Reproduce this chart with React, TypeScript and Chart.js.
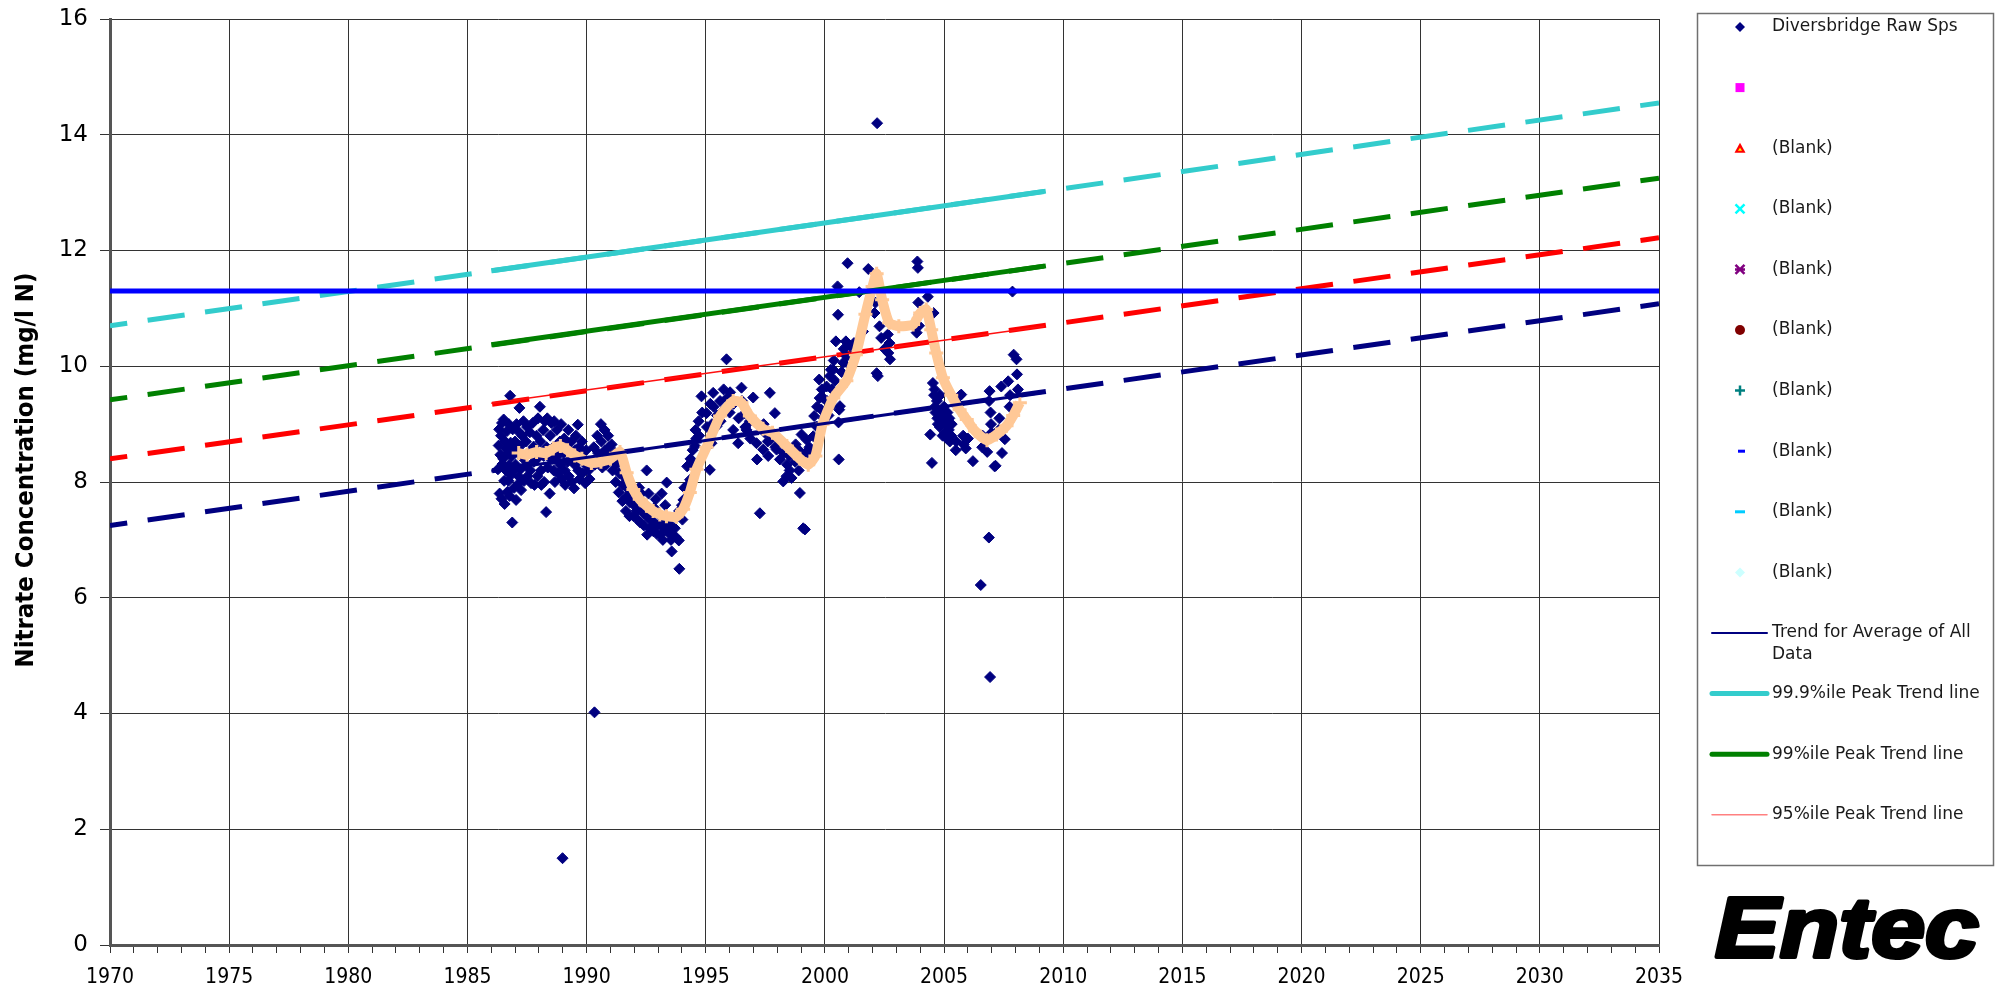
import React, { useEffect, useRef } from 'react';
import { Chart, registerables } from 'chart.js';

Chart.register(...registerables);

const FONT = '"DejaVu Sans", Verdana, sans-serif';
const FONT_COND = '"DejaVu Sans Condensed", "DejaVu Sans", sans-serif';

// Axis ticks
const yearLabels = [1970, 1975, 1980, 1985, 1990, 1995, 2000, 2005, 2010, 2015, 2020, 2025, 2030, 2035];
const concentrationTicks = [0, 2, 4, 6, 8, 10, 12, 14, 16];

// Raw samples, Diversbridge (year, nitrate mg/l N)
const samples1986to1990: number[][] = [
  [1986.28, 8.22], [1986.31, 8.63], [1986.33, 8.91], [1986.35, 7.8], [1986.38, 8.47], [1986.41, 8.8],
  [1986.43, 7.71], [1986.45, 9.02], [1986.47, 8.31], [1986.5, 8.4], [1986.52, 9.08], [1986.54, 8.02],
  [1986.56, 7.62], [1986.58, 8.7], [1986.62, 8.58], [1986.64, 8.19], [1986.66, 8.88], [1986.68, 7.83],
  [1986.7, 8.5], [1986.72, 8.02], [1986.74, 9.0], [1986.76, 8.29], [1986.77, 7.76], [1986.79, 9.49],
  [1986.81, 8.68], [1986.83, 8.12], [1986.85, 8.44], [1986.88, 7.3], [1986.9, 8.91], [1986.92, 8.6],
  [1986.94, 8.21], [1986.96, 7.9], [1987.0, 8.7], [1987.02, 8.3], [1987.04, 7.69], [1987.06, 9.0],
  [1987.1, 8.52], [1987.12, 8.88], [1987.14, 8.1], [1987.16, 7.98], [1987.18, 9.28], [1987.21, 8.62],
  [1987.23, 8.22], [1987.25, 7.86], [1987.3, 8.8], [1987.33, 8.41], [1987.35, 9.05], [1987.38, 8.02],
  [1987.45, 8.7], [1987.47, 8.3], [1987.5, 8.95], [1987.52, 8.1], [1987.6, 8.52], [1987.62, 8.86],
  [1987.64, 8.2], [1987.67, 7.98], [1987.74, 9.02], [1987.77, 8.61], [1987.79, 8.35], [1987.81, 7.95],
  [1987.9, 8.8], [1987.92, 8.4], [1987.94, 8.1], [1987.96, 9.1], [1988.04, 9.3], [1988.06, 8.7],
  [1988.08, 8.2], [1988.1, 7.95], [1988.18, 8.9], [1988.2, 8.45], [1988.22, 8.0], [1988.25, 9.05],
  [1988.3, 7.48], [1988.32, 8.6], [1988.35, 9.1], [1988.37, 8.25], [1988.45, 7.8], [1988.47, 8.8],
  [1988.49, 8.4], [1988.52, 9.02], [1988.6, 8.6], [1988.62, 8.2], [1988.64, 9.05], [1988.67, 8.0],
  [1988.75, 8.9], [1988.77, 8.45], [1988.8, 8.15], [1988.88, 8.7], [1988.9, 8.3], [1988.93, 9.0],
  [1988.95, 8.05], [1988.99, 1.5], [1989.04, 8.5], [1989.06, 8.75], [1989.08, 8.2], [1989.1, 7.95],
  [1989.18, 8.6], [1989.2, 8.35], [1989.23, 8.9], [1989.25, 8.1], [1989.33, 8.4], [1989.36, 8.7],
  [1989.38, 8.0], [1989.47, 7.89], [1989.5, 8.3], [1989.52, 8.55], [1989.55, 8.8], [1989.63, 8.99],
  [1989.65, 8.2], [1989.68, 8.6], [1989.7, 8.05], [1989.78, 8.45], [1989.8, 8.7], [1989.83, 8.15],
  [1989.94, 7.98], [1989.96, 8.3], [1989.98, 8.55], [1990.08, 8.2], [1990.12, 8.05],
];

const samples1990to1994: number[][] = [
  [1990.33, 4.02], [1990.3, 8.6], [1990.35, 8.3], [1990.45, 8.8], [1990.48, 8.5], [1990.5, 8.35],
  [1990.6, 9.0], [1990.62, 8.7], [1990.64, 8.4], [1990.66, 8.25], [1990.75, 8.9], [1990.77, 8.55],
  [1990.8, 8.3], [1990.9, 8.8], [1990.92, 8.45], [1990.94, 8.6], [1991.05, 8.65], [1991.07, 8.4],
  [1991.09, 8.2], [1991.2, 8.5], [1991.22, 8.0], [1991.24, 8.3], [1991.35, 7.82], [1991.37, 8.15],
  [1991.39, 8.4], [1991.5, 7.67], [1991.52, 7.95], [1991.54, 8.1], [1991.65, 7.5], [1991.67, 7.75],
  [1991.69, 7.9], [1991.8, 7.41], [1991.82, 7.65], [1991.84, 7.85], [1991.97, 7.41], [1991.99, 7.6],
  [1992.01, 7.75], [1992.1, 7.5], [1992.12, 7.7], [1992.14, 7.35], [1992.2, 7.9], [1992.25, 7.3],
  [1992.27, 7.55], [1992.29, 7.8], [1992.4, 7.25], [1992.42, 7.45], [1992.44, 7.6], [1992.52, 8.2],
  [1992.54, 7.09], [1992.56, 7.4], [1992.6, 7.8], [1992.65, 7.2], [1992.67, 7.35], [1992.69, 7.5],
  [1992.8, 7.15], [1992.82, 7.3], [1992.84, 7.55], [1992.9, 7.7], [1992.95, 7.1], [1992.97, 7.25],
  [1992.99, 7.45], [1993.1, 7.09], [1993.12, 7.3], [1993.15, 7.8], [1993.2, 7.0], [1993.22, 7.2],
  [1993.24, 7.4], [1993.3, 7.6], [1993.36, 7.99], [1993.38, 7.15], [1993.4, 7.3], [1993.5, 7.1],
  [1993.52, 7.25], [1993.54, 7.0], [1993.57, 6.8], [1993.7, 7.2], [1993.72, 7.4], [1993.74, 7.05],
  [1993.87, 6.99], [1993.88, 7.5], [1993.89, 6.5], [1994.0, 7.6], [1994.02, 7.35],
];

const samples1994to2000: number[][] = [
  [1994.06, 7.69], [1994.1, 7.9], [1994.2, 7.87], [1994.22, 8.27], [1994.25, 7.95], [1994.34, 8.04],
  [1994.36, 8.4], [1994.45, 8.55], [1994.47, 8.3], [1994.55, 8.62], [1994.57, 8.9], [1994.6, 8.75],
  [1994.7, 9.05], [1994.72, 8.8], [1994.82, 9.48], [1994.85, 9.2], [1995.03, 9.19], [1995.05, 8.95],
  [1995.17, 8.21], [1995.19, 9.35], [1995.24, 8.67], [1995.26, 9.0], [1995.31, 9.54], [1995.33, 9.3],
  [1995.45, 8.96], [1995.47, 9.15], [1995.6, 9.4], [1995.62, 9.05], [1995.75, 9.6], [1995.77, 9.25],
  [1995.87, 10.12], [1995.89, 9.45], [1996.0, 9.2], [1996.02, 9.55], [1996.15, 8.9], [1996.17, 9.35],
  [1996.36, 8.67], [1996.38, 9.1], [1996.5, 9.63], [1996.52, 9.4], [1996.64, 9.19], [1996.66, 8.95],
  [1996.71, 8.9], [1996.85, 9.05], [1996.87, 8.75], [1996.99, 9.46], [1997.13, 8.67], [1997.15, 8.39],
  [1997.27, 7.46], [1997.41, 8.56], [1997.43, 9.0], [1997.48, 8.85], [1997.6, 8.7], [1997.62, 8.45],
  [1997.69, 9.54], [1997.71, 8.73], [1997.9, 9.19], [1997.92, 8.6], [1997.97, 8.56], [1998.11, 8.39],
  [1998.13, 8.7], [1998.25, 8.01], [1998.27, 8.5], [1998.39, 8.1], [1998.41, 8.3], [1998.5, 8.45],
  [1998.52, 8.2], [1998.6, 8.07], [1998.62, 8.55], [1998.75, 8.35], [1998.77, 8.65], [1998.88, 8.56],
  [1998.9, 8.2], [1998.95, 7.81], [1999.02, 8.82], [1999.09, 7.2], [1999.16, 7.18], [1999.18, 8.5],
  [1999.23, 8.73], [1999.25, 8.4], [1999.35, 8.6], [1999.37, 8.35], [1999.51, 8.79], [1999.53, 8.5],
  [1999.55, 9.14], [1999.65, 8.96], [1999.67, 9.3], [1999.76, 9.77], [1999.78, 9.45], [1999.85, 9.25],
  [1999.87, 9.6], [1999.93, 9.45], [1999.95, 9.1],
];

const samples2000to2008: number[][] = [
  [2000.07, 9.65], [2000.09, 9.4], [2000.15, 9.15], [2000.21, 9.83], [2000.23, 9.3], [2000.25, 9.94],
  [2000.3, 9.6], [2000.35, 9.94], [2000.37, 10.1], [2000.42, 9.75], [2000.46, 10.43], [2000.48, 9.55],
  [2000.53, 11.38], [2000.55, 10.89], [2000.58, 8.39], [2000.57, 9.03], [2000.6, 9.25], [2000.63, 9.31],
  [2000.7, 9.9], [2000.77, 10.06], [2000.79, 10.3], [2000.88, 10.43], [2000.91, 10.17], [2000.95, 11.78],
  [2001.05, 10.35], [2001.07, 10.0], [2001.2, 10.2], [2001.22, 10.4], [2001.44, 11.28], [2001.6, 10.6],
  [2001.82, 11.68], [2002.08, 10.92], [2002.12, 11.1], [2002.17, 9.88], [2002.19, 14.2], [2002.22, 9.83],
  [2002.29, 10.69], [2002.36, 10.49], [2002.5, 10.3], [2002.64, 10.55], [2002.66, 10.23], [2002.71, 10.4],
  [2002.73, 10.12], [2003.88, 11.81], [2003.9, 11.7], [2003.92, 11.1], [2003.85, 10.58], [2003.95, 10.7],
  [2003.97, 10.9], [2004.32, 11.2], [2004.42, 8.82], [2004.49, 8.33], [2004.53, 9.71], [2004.56, 10.92],
  [2004.58, 9.5], [2004.6, 9.6], [2004.62, 9.3], [2004.64, 9.2], [2004.7, 9.4], [2004.72, 9.1],
  [2004.74, 9.0], [2004.8, 9.2], [2004.82, 8.95], [2004.84, 9.5], [2004.9, 9.0], [2004.92, 9.15],
  [2004.94, 8.8], [2005.0, 9.3], [2005.02, 9.05], [2005.04, 8.85], [2005.1, 9.0], [2005.12, 8.75],
  [2005.14, 9.2], [2005.2, 8.9], [2005.22, 9.1], [2005.24, 8.7], [2005.3, 8.8], [2005.32, 9.0],
  [2005.49, 8.55], [2005.51, 8.7], [2005.66, 9.49], [2005.72, 9.51], [2005.8, 8.8], [2005.82, 8.65],
  [2005.91, 8.58], [2006.0, 8.75], [2006.21, 8.36], [2006.54, 6.22], [2006.6, 8.6], [2006.62, 8.8],
  [2006.81, 8.52], [2006.88, 7.04], [2006.91, 9.57], [2006.89, 9.4], [2006.93, 4.63], [2006.95, 9.2],
  [2006.97, 9.0], [2006.99, 8.85], [2007.12, 8.27], [2007.16, 8.28], [2007.3, 8.9], [2007.32, 9.1],
  [2007.4, 9.65], [2007.43, 8.5], [2007.55, 8.74], [2007.69, 9.74], [2007.75, 9.3], [2007.77, 9.5],
  [2007.87, 11.29], [2007.92, 10.2], [2008.04, 10.12], [2008.06, 9.86], [2008.1, 9.6],
];

// Smoothed (moving average) concentration
const smoothYears = [
  1987.15, 1987.5, 1987.9, 1988.3, 1988.6, 1988.9, 1989.2, 1989.5, 1989.8, 1990.2, 1990.6, 1991.0,
  1991.4, 1991.68, 1991.96, 1992.23, 1992.51, 1992.79, 1993.07, 1993.35, 1993.77, 1994.05, 1994.33,
  1994.61, 1995.03, 1995.6, 1996.15, 1996.5, 1996.85, 1997.4, 1997.8, 1998.4, 1998.95, 1999.3, 1999.6,
  1999.9, 2000.35, 2000.9, 2001.3, 2001.7, 2002.0, 2002.17, 2002.4, 2002.7, 2003.1, 2003.7, 2004.0,
  2004.25, 2004.46, 2004.67, 2004.95, 2005.3, 2005.65, 2005.95, 2006.3, 2006.8, 2007.2, 2007.62,
  2007.9, 2008.18,
];
const smoothValues = [
  8.5, 8.47, 8.52, 8.5, 8.58, 8.62, 8.55, 8.46, 8.4, 8.33, 8.35, 8.4,
  8.52, 8.16, 7.87, 7.7, 7.59, 7.5, 7.44, 7.41, 7.4, 7.53, 7.82,
  8.22, 8.6, 9.14, 9.4, 9.37, 9.14, 8.92, 8.85, 8.62, 8.4, 8.3, 8.45,
  9.0, 9.45, 9.75, 10.2, 10.9, 11.38, 11.6, 11.15, 10.75, 10.69, 10.72, 10.92,
  10.98, 10.63, 10.23, 9.8, 9.5, 9.25, 9.08, 8.88, 8.72, 8.82, 8.97,
  9.15, 9.37,
];

// Trend lines: projected (dashed) over the full axis, fitted (solid) over the record
const projectionYears = [1970, 2035];
const projAverage = [7.25, 11.08];
const proj999 = [10.7, 14.55];
const proj99 = [9.42, 13.25];
const proj95 = [8.4, 12.22];

const fittedYears = [1986.0, 2009.2];
const fitAverage = [8.19, 9.55];
const fit999 = [11.65, 13.02];
const fit99 = [10.37, 11.73];
const fit95 = [9.36, 10.69];

// Drinking water limit (mg/l N)
const limitYears = [1970, 2035];
const limitValues = [11.3, 11.3];

const legendLabels = [
  'Diversbridge Raw Sps', '', '(Blank)', '(Blank)', '(Blank)', '(Blank)', '(Blank)', '(Blank)', '(Blank)', '(Blank)',
  'Trend for Average of All|Data', '99.9%ile Peak Trend line', '99%ile Peak Trend line', '95%ile Peak Trend line',
];

const pts = (xs: number[], ys: number[]) => xs.map((x, i) => ({ x, y: ys[i] }));
const pairs = (rows: number[][]) => rows.map(([x, y]) => ({ x, y }));

const DASH = [37.4, 20.6];

function drawMarker(ctx: CanvasRenderingContext2D, i: number, x: number, y: number) {
  ctx.save();
  ctx.lineCap = 'butt';
  switch (i) {
    case 0:
      ctx.fillStyle = '#000080';
      ctx.beginPath();
      ctx.moveTo(x, y - 5); ctx.lineTo(x + 5, y); ctx.lineTo(x, y + 5); ctx.lineTo(x - 5, y);
      ctx.closePath(); ctx.fill();
      break;
    case 1:
      ctx.fillStyle = '#ff00ff';
      ctx.fillRect(x - 4.5, y - 4.5, 9, 9);
      break;
    case 2:
      ctx.fillStyle = '#ff0000';
      ctx.beginPath();
      ctx.moveTo(x, y - 5.5); ctx.lineTo(x + 5.5, y + 4.5); ctx.lineTo(x - 5.5, y + 4.5);
      ctx.closePath(); ctx.fill();
      ctx.fillStyle = '#ffff00';
      ctx.beginPath();
      ctx.moveTo(x, y - 0.5); ctx.lineTo(x + 2, y + 2.5); ctx.lineTo(x - 2, y + 2.5);
      ctx.closePath(); ctx.fill();
      break;
    case 3:
      ctx.strokeStyle = '#00ffff'; ctx.lineWidth = 2.5;
      ctx.beginPath();
      ctx.moveTo(x - 4.5, y - 4.5); ctx.lineTo(x + 4.5, y + 4.5);
      ctx.moveTo(x + 4.5, y - 4.5); ctx.lineTo(x - 4.5, y + 4.5);
      ctx.stroke();
      break;
    case 4:
      ctx.strokeStyle = '#800080'; ctx.lineWidth = 2.5;
      ctx.beginPath();
      ctx.moveTo(x - 4.5, y - 4.5); ctx.lineTo(x + 4.5, y + 4.5);
      ctx.moveTo(x + 4.5, y - 4.5); ctx.lineTo(x - 4.5, y + 4.5);
      ctx.moveTo(x - 5, y); ctx.lineTo(x + 5, y);
      ctx.stroke();
      break;
    case 5:
      ctx.fillStyle = '#800000';
      ctx.beginPath(); ctx.arc(x, y, 5, 0, Math.PI * 2); ctx.fill();
      break;
    case 6:
      ctx.strokeStyle = '#008080'; ctx.lineWidth = 2.5;
      ctx.beginPath();
      ctx.moveTo(x - 5, y); ctx.lineTo(x + 5, y);
      ctx.moveTo(x, y - 5); ctx.lineTo(x, y + 5);
      ctx.stroke();
      break;
    case 7:
      ctx.fillStyle = '#0000ff';
      ctx.fillRect(x - 2, y - 1.5, 7, 3);
      break;
    case 8:
      ctx.fillStyle = '#00ccff';
      ctx.fillRect(x - 5, y - 1.5, 10, 3);
      break;
    case 9:
      ctx.fillStyle = '#ccffff';
      ctx.beginPath();
      ctx.moveTo(x, y - 5); ctx.lineTo(x + 5, y); ctx.lineTo(x, y + 5); ctx.lineTo(x - 5, y);
      ctx.closePath(); ctx.fill();
      break;
    default: {
      const styles: Record<number, [string, number]> = {
        10: ['#000080', 2],
        11: ['#33cccc', 5],
        12: ['#008000', 5],
        13: ['#ff8080', 1.5],
      };
      const [c, w] = styles[i];
      ctx.strokeStyle = c; ctx.lineWidth = w; ctx.lineCap = 'round';
      ctx.beginPath(); ctx.moveTo(1712, y); ctx.lineTo(1767, y); ctx.stroke();
    }
  }
  ctx.restore();
}

const decorations = {
  id: 'decorations',
  afterDraw(chart: Chart) {
    const ctx = chart.ctx;
    ctx.save();

    // Y axis title
    ctx.save();
    ctx.translate(27, 470);
    ctx.rotate(-Math.PI / 2);
    ctx.font = `bold 24px ${FONT_COND}`;
    const tw = ctx.measureText('Nitrate Concentration (mg/l N)').width;
    ctx.scale(395 / tw, 1);
    ctx.fillStyle = '#000';
    ctx.textAlign = 'center';
    ctx.textBaseline = 'middle';
    ctx.fillText('Nitrate Concentration (mg/l N)', 0, 0);
    ctx.restore();

    // Legend box
    ctx.strokeStyle = '#707070';
    ctx.lineWidth = 1.5;
    ctx.strokeRect(1697.5, 13.5, 296, 852);
    ctx.font = `17px ${FONT}`;
    ctx.fillStyle = '#1a1a1a';
    ctx.textAlign = 'left';
    ctx.textBaseline = 'middle';
    legendLabels.forEach((label, i) => {
      const y = 27 + i * 60.6;
      drawMarker(ctx, i, 1740, y);
      label.split('|').forEach((line, k) => ctx.fillText(line, 1772, y + k * 22));
    });

    // Company mark
    ctx.save();
    ctx.font = `italic bold 86px "Liberation Sans", Arial, sans-serif`;
    const lw = ctx.measureText('Entec').width;
    ctx.translate(1715, 957);
    ctx.scale(264 / lw, 1);
    ctx.fillStyle = '#000';
    ctx.strokeStyle = '#000';
    ctx.lineWidth = 4;
    ctx.lineJoin = 'round';
    ctx.textAlign = 'left';
    ctx.textBaseline = 'alphabetic';
    ctx.fillText('Entec', 0, 0);
    ctx.strokeText('Entec', 0, 0);
    ctx.restore();

    ctx.restore();
  },
};

export default function App() {
  const canvasRef = useRef<HTMLCanvasElement | null>(null);

  useEffect(() => {
    const canvas = canvasRef.current;
    if (!canvas) return;

    const line = (data: { x: number; y: number }[], color: string, width: number, order: number, dashed = false) => ({
      type: 'scatter' as const,
      data,
      showLine: true,
      borderColor: color,
      backgroundColor: color,
      borderWidth: width,
      pointRadius: 0,
      borderDash: dashed ? DASH : [],
      borderDashOffset: dashed ? 20 : 0,
      borderCapStyle: 'butt' as const,
      order,
    });

    const chart = new Chart(canvas, {
      type: 'scatter',
      data: {
        datasets: [
          line(pts(limitYears, limitValues), '#0000ff', 5, 0),
          line(pts(fittedYears, fitAverage), '#000080', 3, 1),
          line(pts(fittedYears, fit95), '#ff1010', 1.5, 1),
          line(pts(fittedYears, fit99), '#008000', 5, 1),
          line(pts(fittedYears, fit999), '#33cccc', 5, 1),
          {
            type: 'scatter',
            data: pts(smoothYears, smoothValues),
            showLine: true,
            borderColor: '#ffc896',
            backgroundColor: '#ffc896',
            borderWidth: 10,
            tension: 0.2,
            pointStyle: 'cross',
            pointRadius: 7,
            pointBorderWidth: 3,
            pointBorderColor: '#ffc896',
            order: 2,
          },
          {
            type: 'scatter',
            label: 'Diversbridge Raw Sps',
            data: [
              ...pairs(samples1986to1990),
              ...pairs(samples1990to1994),
              ...pairs(samples1994to2000),
              ...pairs(samples2000to2008),
            ],
            pointStyle: 'rectRot',
            pointRadius: 5.5,
            pointBorderWidth: 1,
            backgroundColor: '#000080',
            borderColor: '#000080',
            order: 3,
          },
          line(pts(projectionYears, projAverage), '#000080', 5, 4, true),
          line(pts(projectionYears, proj95), '#ff0000', 5, 4, true),
          line(pts(projectionYears, proj99), '#008000', 5, 4, true),
          line(pts(projectionYears, proj999), '#33cccc', 5, 4, true),
        ],
      },
      options: {
        responsive: false,
        devicePixelRatio: 1,
        animation: false,
        events: [],
        layout: { padding: { left: 0, top: 19, right: 345, bottom: 0 } },
        plugins: { legend: { display: false }, tooltip: { enabled: false }, title: { display: false } },
        scales: {
          x: {
            type: 'linear',
            min: 1970,
            max: 2035,
            afterFit: (s: any) => { s.height = 46; },
            ticks: {
              stepSize: 1,
              autoSkip: false,
              maxRotation: 0,
              minRotation: 0,
              padding: 12,
              color: '#000',
              font: { family: FONT_COND, size: 21 },
              callback: (v: any) => (yearLabels.includes(Math.round(Number(v))) ? String(Math.round(Number(v))) : ''),
            },
            grid: {
              color: (c: any) => (c.tick && Math.round(c.tick.value) % 5 === 0 ? '#333333' : 'rgba(0,0,0,0)'),
              tickColor: '#333333',
              tickLength: 8,
              lineWidth: 1,
            },
            border: { color: '#555555', width: 3 },
          },
          y: {
            type: 'linear',
            min: concentrationTicks[0],
            max: concentrationTicks[concentrationTicks.length - 1],
            afterFit: (s: any) => { s.width = 110; s.paddingTop = 0; s.paddingBottom = 0; },
            ticks: {
              stepSize: 2,
              padding: 12,
              color: '#000',
              font: { family: FONT, size: 23 },
            },
            grid: { color: '#333333', tickColor: '#333333', tickLength: 10, lineWidth: 1 },
            border: { color: '#555555', width: 3 },
          },
        },
      },
      plugins: [decorations],
    } as any);

    return () => chart.destroy();
  }, []);

  return (
    <div style={{ position: 'absolute', left: 0, top: 0, width: 2004, height: 991, background: '#fff' }}>
      <canvas ref={canvasRef} width={2004} height={991} style={{ display: 'block', width: 2004, height: 991 }} />
    </div>
  );
}
